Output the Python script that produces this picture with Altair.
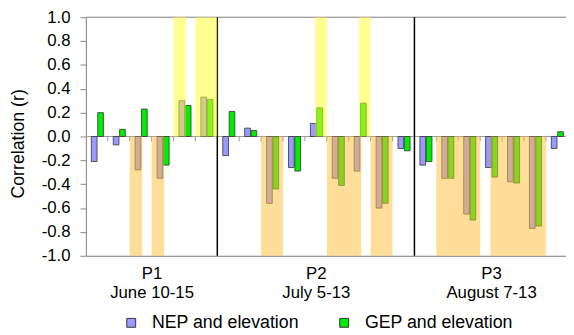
import altair as alt
import pandas as pd

# ---------------- data ----------------
periods = ["P1", "P2", "P3"]
period_dates = ["June 10-15", "July 5-13", "August 7-13"]
days_per_period = [6, 9, 7]

series = ["NEP and elevation", "GEP and elevation"]
series_colors = ["#9999ff", "#00ee00"]

nep = [-0.21, -0.07, -0.28, -0.35, 0.30, 0.33,
       -0.16, 0.07, -0.56, -0.26, 0.11, -0.35, -0.29, -0.60, -0.10,
       -0.24, -0.35, -0.65, -0.26, -0.38, -0.77, -0.10]
gep = [0.20, 0.06, 0.23, -0.24, 0.26, 0.31,
       0.21, 0.05, -0.44, -0.29, 0.24, -0.41, 0.28, -0.56, -0.12,
       -0.21, -0.35, -0.70, -0.34, -0.39, -0.75, 0.04]
# significant correlations (highlighted bands)
nep_sig = [0, 0, 1, 1, 1, 1,
           0, 0, 1, 0, 0, 1, 1, 1, 0,
           0, 1, 1, 0, 1, 1, 0]
gep_sig = [0, 0, 0, 0, 0, 1,
           0, 0, 1, 0, 1, 1, 1, 1, 0,
           0, 1, 1, 1, 1, 1, 0]

y_ticks = [-1.0, -0.8, -0.6, -0.4, -0.2, 0.0, 0.2, 0.4, 0.6, 0.8, 1.0]

# ---------------- derived tables ----------------
n_days = sum(days_per_period)
bounds = [0]
for d in days_per_period:
    bounds.append(bounds[-1] + d)
centers = [(bounds[i] + bounds[i + 1]) / 2 for i in range(len(periods))]

NEP_OFF = (0.25, 0.51)
GEP_OFF = (0.54, 0.80)

bar_rows = []
for i in range(n_days):
    bar_rows.append({"x": i + NEP_OFF[0], "x2": i + NEP_OFF[1], "y": nep[i], "y2": 0.0, "s": series[0]})
    bar_rows.append({"x": i + GEP_OFF[0], "x2": i + GEP_OFF[1], "y": gep[i], "y2": 0.0, "s": series[1]})
bars_df = pd.DataFrame(bar_rows)

# highlight bands: yellow above zero for positive, orange below zero for negative
intervals = {1: [], -1: []}
for i in range(n_days):
    if nep_sig[i]:
        intervals[1 if nep[i] > 0 else -1].append([i + 0.0, i + 0.57])
    if gep_sig[i]:
        intervals[1 if gep[i] > 0 else -1].append([i + 0.47, i + 1.0])
band_rows = []
for sign, ivs in intervals.items():
    ivs.sort()
    merged = []
    for a, b in ivs:
        if merged and a <= merged[-1][1] + 0.02:
            merged[-1][1] = max(merged[-1][1], b)
        else:
            merged.append([a, b])
    for a, b in merged:
        band_rows.append({"x": a, "x2": b, "y": 0.0, "y2": float(sign),
                          "fill": "#ffff2d" if sign > 0 else "#ffc03c"})
bands_df = pd.DataFrame(band_rows)

tick_df = pd.DataFrame({"x": [float(k) for k in range(1, n_days) if k not in bounds],
                        "y": 0.0, "y2": -0.04})
divider_df = pd.DataFrame({"x": [float(b) for b in bounds[1:-1]], "y": -1.0, "y2": 1.0})
hline_df = pd.DataFrame({"x": [0.0, 0.0], "x2": [float(n_days)] * 2, "y": [0.0, 1.0],
                         "c": ["#9a9a9a", "#888888"]})

# x-axis labels: two lines per period
label_expr = "''"
for p, dt, c in reversed(list(zip(periods, period_dates, centers))):
    label_expr = f"(abs(datum.value - {c}) < 0.01 ? ['{p}', '{dt}'] : {label_expr})"

FONT = "Liberation Sans, Arial, sans-serif"

xenc = alt.X("x:Q", scale=alt.Scale(domain=[0, 21.92], nice=False, zero=False),
             axis=alt.Axis(values=centers, labelExpr=label_expr, ticks=False, grid=False,
                           domainColor="#888888", domainWidth=1, labelFontSize=17,
                           labelColor="black", labelPadding=10, labelLineHeight=19,
                           labelFont=FONT, title=None))
yenc = alt.Y("y:Q", scale=alt.Scale(domain=[-1, 1], nice=False, zero=False),
             axis=alt.Axis(values=y_ticks,
                           labelExpr="replace(format(datum.value, '.1f'), '\u2212', '-')",
                           tickSize=6, tickColor="#888888", domainColor="#888888",
                           grid=False, labelFontSize=17, labelColor="black", labelPadding=10,
                           labelFont=FONT, title="Correlation (r)", titleFont=FONT,
                           titleFontSize=18, titleFontWeight="normal", titleColor="black",
                           titleX=-68, titleY=128, titleBaseline="middle", titleAlign="center"))

zero_line = alt.Chart(hline_df).mark_rule(strokeWidth=1).encode(
    x=xenc, x2="x2:Q", y=yenc, color=alt.Color("c:N", scale=None))

day_ticks = alt.Chart(tick_df).mark_rule(color="#9a9a9a", strokeWidth=1).encode(
    x=xenc, y=yenc, y2="y2:Q")

bars = alt.Chart(bars_df).mark_bar(stroke="#333333", strokeWidth=0.8).encode(
    x=xenc, x2="x2:Q", y=yenc, y2="y2:Q",
    color=alt.Color("s:N", scale=alt.Scale(domain=series, range=series_colors),
                    legend=alt.Legend(title=None, orient="none", direction="horizontal",
                                      legendX=37, legendY=301, symbolType="square",
                                      symbolSize=81, symbolStrokeColor="#333333",
                                      symbolStrokeWidth=1, symbolOpacity=1,
                                      labelFontSize=18, labelFont=FONT, labelColor="black",
                                      labelOffset=12, columnPadding=36, labelLimit=300,
                                      padding=0)))

dividers = alt.Chart(divider_df).mark_rule(color="black", strokeWidth=1.5).encode(
    x=xenc, y=yenc, y2="y2:Q")

bands = alt.Chart(bands_df).mark_rect(opacity=0.52).encode(
    x=xenc, x2="x2:Q", y=yenc, y2="y2:Q", fill=alt.Fill("fill:N", scale=None))

chart = alt.layer(zero_line, day_ticks, bars, dividers, bands).properties(
    width=487, height=242,
    autosize=alt.AutoSizeParams(type="none"),
    padding={"left": 79, "top": 7, "right": 0, "bottom": 78},
).configure_view(stroke=None).configure(font=FONT)

chart.save("out.html", embed_options={"renderer": "svg", "actions": False})
